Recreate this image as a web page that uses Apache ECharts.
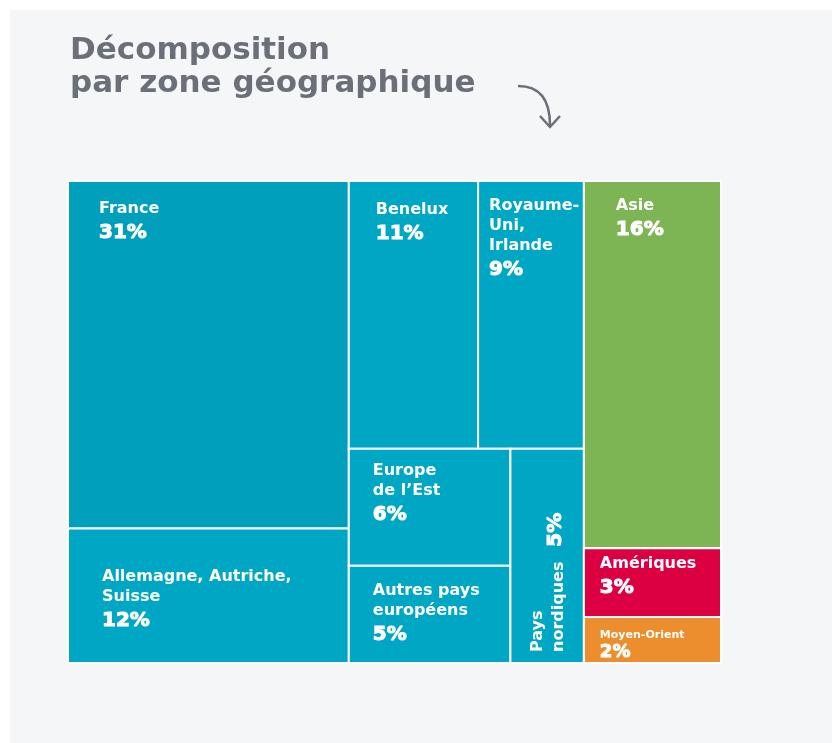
<!DOCTYPE html>
<html>
<head>
<meta charset="utf-8">
<script src="https://cdn.jsdelivr.net/npm/echarts@6/dist/echarts.min.js"></script>
<style>
  html, body { margin: 0; padding: 0; background: #fff; }
  #chart { width: 832px; height: 743px; }
</style>
</head>
<body>
<div id="chart"></div>
<script>
// zones géographiques et parts (%)
const zones = ['France', 'Allemagne, Autriche, Suisse', 'Benelux', 'Royaume-Uni, Irlande', 'Europe de l’Est',
  'Autres pays européens', 'Pays nordiques', 'Asie', 'Amériques', 'Moyen-Orient'];
const shares = [31, 12, 11, 9, 6, 5, 5, 16, 3, 2];
// libellés affichés (retours à la ligne)
const labels = ['France', 'Allemagne, Autriche,\nSuisse', 'Benelux', 'Royaume-\nUni,\nIrlande', 'Europe\nde l’Est',
  'Autres pays\neuropéens', 'Pays\nnordiques', 'Asie', 'Amériques', 'Moyen-Orient'];

// regroupement des blocs : h = côte à côte, v = empilés (indices dans zones)
const layoutTree = { dir: 'h', items: [
  { dir: 'v', items: [0, 1] },
  { dir: 'v', items: [{ dir: 'h', items: [2, 3] }, { dir: 'h', items: [{ dir: 'v', items: [4, 5] }, 6] }] },
  { dir: 'v', items: [7, 8, 9] }
] };

// couleurs et décalage des textes (px)
const cellColors = ['#009fbb', '#00a7c5', '#00a7c5', '#00a7c5', '#00a7c5', '#00a7c5', '#00a7c5', '#7db555', '#dc0043', '#ec8e2e'];
const labelPad = [[31, 18], [34, 38], [27, 19], [11, 15], [24, 12], [24, 15], [17, 11], [32, 15], [16, 6], [16, 11]];

function sumOf(node) {
  return typeof node === 'number' ? shares[node] : node.items.reduce((s, n) => s + sumOf(n), 0);
}
const cells = [];
function slice(node, x, y, w, h) {
  if (typeof node === 'number') { cells[node] = [x, y, w, h]; return; }
  const total = sumOf(node);
  let off = 0;
  node.items.forEach(n => {
    const f = sumOf(n) / total;
    if (node.dir === 'h') slice(n, x + off * w, y, w * f, h);
    else slice(n, x, y + off * h, w, h * f);
    off += f;
  });
}
slice(layoutTree, 0, 0, 100, 100);

const FONT = 'DejaVu Sans';

function renderItem(params, api) {
  const i = params.dataIndex;
  const p0 = api.coord([api.value(0), api.value(1)]);
  const p1 = api.coord([api.value(0) + api.value(2), api.value(1) + api.value(3)]);
  const pad = labelPad[i];
  const pct = api.value(4) + '%';
  const small = i === 9;
  const children = [{
    type: 'rect',
    shape: { x: p0[0], y: p0[1], width: p1[0] - p0[0], height: p1[1] - p0[1] },
    style: { fill: cellColors[i], stroke: '#fff', lineWidth: 2 }
  }];
  if (i === 6) {
    // Pays nordiques : texte vertical
    children.push({
      type: 'text', x: p0[0] + pad[0], y: p1[1] - pad[1], rotation: Math.PI / 2,
      style: { text: labels[i], fill: '#fff', font: 'bold 16px ' + FONT, lineHeight: 21, align: 'left', verticalAlign: 'top' }
    });
    children.push({
      type: 'text', x: p0[0] + 45, y: p0[1] + 81, rotation: Math.PI / 2,
      style: { text: pct, fill: '#fff', stroke: '#fff', lineWidth: 1, font: 'bold 20px ' + FONT, align: 'center', verticalAlign: 'middle' }
    });
  } else {
    const lines = labels[i].split('\n');
    children.push({
      type: 'text', x: p0[0] + pad[0], y: p0[1] + pad[1],
      style: {
        text: lines.map(l => '{n|' + l + '}').join('\n') + '\n{p|' + pct + '}',
        align: 'left', verticalAlign: 'top',
        rich: {
          n: { fill: '#fff', fontFamily: FONT, fontWeight: 'bold', fontSize: small ? 11 : 16, lineHeight: small ? 14 : 20 },
          p: { fill: '#fff', stroke: '#fff', lineWidth: 1, fontFamily: FONT, fontWeight: 'bold',
               fontSize: small ? 18 : 20, lineHeight: small ? 20 : 28 }
        }
      }
    });
  }
  return { type: 'group', children: children };
}

const chart = echarts.init(document.getElementById('chart'));
chart.setOption({
  animation: false,
  title: {
    text: 'Décomposition\npar zone géographique',
    left: 70, top: 34, padding: 0,
    textStyle: { fontFamily: FONT, fontWeight: 'bold', fontSize: 31, lineHeight: 33, color: '#6b7078' }
  },
  graphic: [
    { type: 'rect', z: -10, shape: { x: 10, y: 10, width: 822, height: 733 }, style: { fill: '#f5f6f8' } },
    { type: 'bezierCurve', shape: { x1: 518, y1: 86, cpx1: 540, cpy1: 86, cpx2: 550, cpy2: 100, x2: 550, y2: 125 },
      style: { stroke: '#6b7078', lineWidth: 2.5, fill: null } },
    { type: 'polyline', shape: { points: [[540, 116], [550, 127], [560, 116]] },
      style: { stroke: '#6b7078', lineWidth: 2.5, fill: null } }
  ],
  grid: { left: 68, top: 181, width: 653, height: 482 },
  xAxis: { type: 'value', min: 0, max: 100, show: false },
  yAxis: { type: 'value', min: 0, max: 100, inverse: true, show: false },
  series: [{
    type: 'custom',
    renderItem: renderItem,
    data: zones.map((z, i) => ({ name: z, value: [cells[i][0], cells[i][1], cells[i][2], cells[i][3], shares[i]] }))
  }]
});
</script>
</body>
</html>
